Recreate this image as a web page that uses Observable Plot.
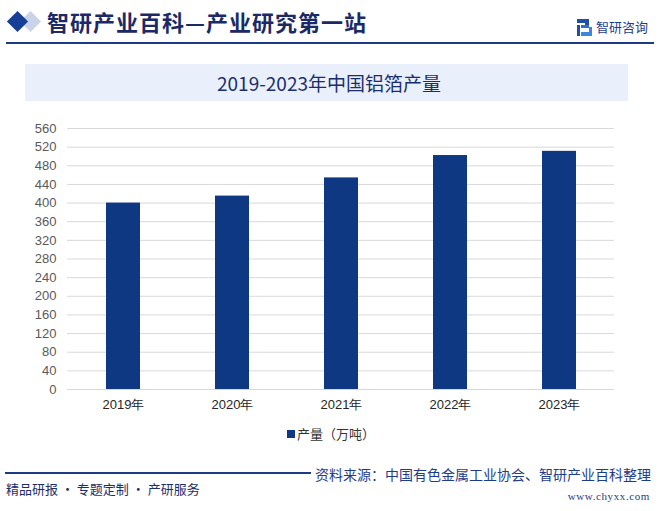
<!DOCTYPE html>
<html><head><meta charset="utf-8">
<script src="https://cdn.jsdelivr.net/npm/d3@7"></script>
<script src="https://cdn.jsdelivr.net/npm/@observablehq/plot@0.6"></script>
<style>
body{margin:0;background:#fff;}
#wrap{position:relative;width:660px;height:511px;overflow:hidden;font-family:"Noto Sans CJK SC",sans-serif;background:#fff;}
.abs{position:absolute;white-space:nowrap;}
#chart{position:absolute;left:0;top:110px;}
</style></head><body>
<div id="wrap">
  <div class="abs" style="top:14px;width:15px;height:15px;background:#c9d4ea;transform:rotate(45deg);left:23px;"></div>
  <div class="abs" style="left:10px;top:14px;width:15px;height:15px;background:#163f95;transform:rotate(45deg);"></div>
  <div class="abs" id="htitle" style="left:47px;top:7px;font-size:22px;letter-spacing:1px;font-weight:bold;line-height:29px;color:#1b2a66;">智研产业百科—产业研究第一站</div>
  <svg class="abs" style="left:577px;top:19px;" width="16" height="17" viewBox="0 0 16 17">
    <rect x="0" y="0" width="11" height="4" fill="#1f4fa8"/>
    <rect x="8" y="0" width="4" height="8" fill="#1f4fa8"/>
    <rect x="4" y="6" width="8" height="3" fill="#2f6fd0"/>
    <rect x="0" y="6" width="3" height="11" fill="#1f4fa8"/>
    <rect x="4" y="13" width="11" height="4" fill="#3d86dc"/>
    <rect x="12" y="8" width="3" height="6" fill="#3d86dc"/>
  </svg>
  <div class="abs" style="left:596px;top:18px;font-size:13px;line-height:18px;color:#1f3d8c;">智研咨询</div>
  <div class="abs" style="left:6px;top:42px;width:648px;height:2px;background:#1c3a85;"></div>

  <div class="abs" style="left:25px;top:64px;width:603px;height:37px;background:#e9f0fb;"></div>
  <div class="abs" style="left:25px;top:64px;width:608px;height:37px;line-height:37px;text-align:center;font-size:19px;color:#1b2d6d;">2019-2023年中国铝箔产量</div>

  <div id="chart"></div>

  <div class="abs" style="left:287px;top:430px;width:8px;height:8px;background:#0f3882;"></div>
  <div class="abs" style="left:297px;top:425px;font-size:13px;line-height:18px;color:#333;">产量（万吨）</div>

  <div class="abs" style="left:5px;top:472px;width:306px;height:2px;background:#1c3a85;"></div>
  <div class="abs" style="left:6px;top:480px;font-size:13px;line-height:18px;color:#1b2d6d;">精品研报 · 专题定制 · 产研服务</div>
  <div class="abs" style="right:9px;top:465px;font-size:14px;line-height:18px;color:#1e3c8c;">资料来源：中国有色金属工业协会、智研产业百科整理</div>
  <div class="abs" style="right:10px;top:489px;font:11px 'Liberation Serif',serif;letter-spacing:0.6px;line-height:14px;color:#1e3c8c;">www.chyxx.com</div>
</div>
<script>
const years = ["2019年", "2020年", "2021年", "2022年", "2023年"];
const output = [400, 415, 454, 502, 511];
const yTicks = [0, 40, 80, 120, 160, 200, 240, 280, 320, 360, 400, 440, 480, 520, 560];

const data = years.map((year, i) => ({year, value: output[i]}));

const chart = Plot.plot({
  width: 660,
  height: 310,
  marginTop: 18,
  marginBottom: 31,
  marginLeft: 67,
  marginRight: 46,
  style: {background: "transparent", fontFamily: "'Liberation Sans', Arial, sans-serif", fontSize: "13px", color: "#595959", overflow: "visible"},
  x: {domain: years, paddingInner: 0.69, paddingOuter: 0.345, label: null, tickSize: 0, tickPadding: 10},
  y: {domain: [0, 560], ticks: yTicks, label: null, tickSize: 0, tickPadding: 11},
  marks: [
    Plot.ruleY(yTicks, {stroke: "#d9d9d9", strokeWidth: 1}),
    Plot.barY(data, {x: "year", y: "value", fill: "#0f3882"})
  ]
});
d3.select(chart).selectAll("g[aria-label^='x-axis'] text").attr("fill", "#262626");
document.getElementById("chart").appendChild(chart);
</script>
</body></html>
